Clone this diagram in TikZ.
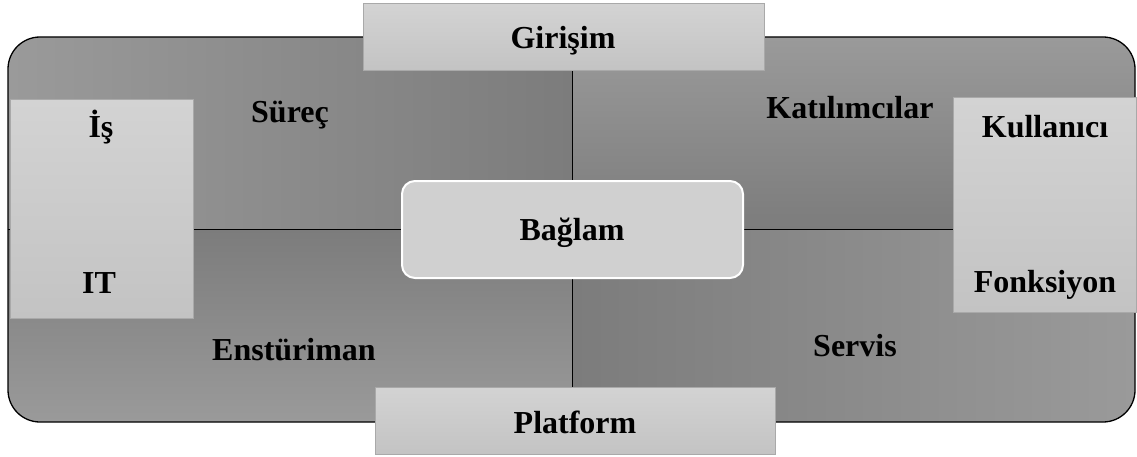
\documentclass[tikz,border=0pt]{standalone}
\usepackage{fontspec}
\setmainfont{Liberation Serif}
\definecolor{qlight}{HTML}{9A9A9A}
\definecolor{qdark}{HTML}{7C7C7C}
\definecolor{boxtop}{HTML}{D3D3D3}
\definecolor{boxbot}{HTML}{C3C3C3}
\definecolor{boxline}{HTML}{A9A9A9}
\definecolor{ctrfill}{HTML}{D0D0D0}
\tikzset{
  lbl/.style={font=\fontsize{32}{37}\selectfont\bfseries, anchor=base, inner sep=0pt},
  lightbox/.style={draw=boxline, line width=1pt, top color=boxtop, bottom color=boxbot, inner sep=0pt},
  centerbox/.style={draw=white, line width=2pt, fill=ctrfill, rounded corners=13pt, inner sep=0pt},
  divider/.style={draw=black, line width=0.9pt},
}
\begin{document}
\begin{tikzpicture}[x=1pt,y=1pt]
\useasboundingbox (0,0) rectangle (1137,456);
% outer rounded panel with four shaded quadrants
\begin{scope}
  \clip[rounded corners=32pt] (8,34) rectangle (1135,419);
  \shade[left color=qlight, right color=qdark] (8,227) rectangle (572,419);
  \shade[top color=qlight, bottom color=qdark] (572,227) rectangle (1135,419);
  \shade[top color=qdark, bottom color=qlight] (8,34) rectangle (572,227);
  \shade[left color=qdark, right color=qlight] (572,34) rectangle (1135,227);
\end{scope}
\draw[line width=1.3pt, rounded corners=32pt] (8,34) rectangle (1135,419);
% divider coordinates
\coordinate (hl) at (8,227);
\coordinate (hr) at (1135,227);
\coordinate (vt) at (572,419);
\coordinate (vb) at (572,34);
\draw[divider] (hl) -- (hr);
\draw[divider] (vt) -- (vb);
% light boxes
\node[lightbox, minimum width=401pt, minimum height=67pt] (giris) at (563.5,418.5) {};
\node[lightbox, minimum width=400pt, minimum height=67pt] (plat) at (575,35) {};
\node[lightbox, minimum width=183pt, minimum height=218pt] (isbox) at (101.5,247) {};
\node[lightbox, minimum width=183pt, minimum height=214pt] (kulbox) at (1044.5,251) {};
\node[centerbox, minimum width=341pt, minimum height=97pt] (baglam) at (572.5,226.5) {};
% labels
\node[lbl] (tGiris) at (563,407) {Girişim};
\node[lbl] (tPlat) at (575,23) {Platform};
\node[lbl] (tBag) at (572,216) {Bağlam};
\node[lbl] (tSurec) at (290,333) {Süreç};
\node[lbl] (tKat) at (850,337) {Katılımcılar};
\node[lbl] (tKul) at (1045,318) {Kullanıcı};
\node[lbl] (tIs) at (101,318) {İş};
\node[lbl] (tIT) at (99,163) {IT};
\node[lbl] (tFonk) at (1045,164) {Fonksiyon};
\node[lbl] (tEns) at (294,96) {Enstüriman};
\node[lbl] (tServ) at (855,100) {Servis};
\end{tikzpicture}
\end{document}
